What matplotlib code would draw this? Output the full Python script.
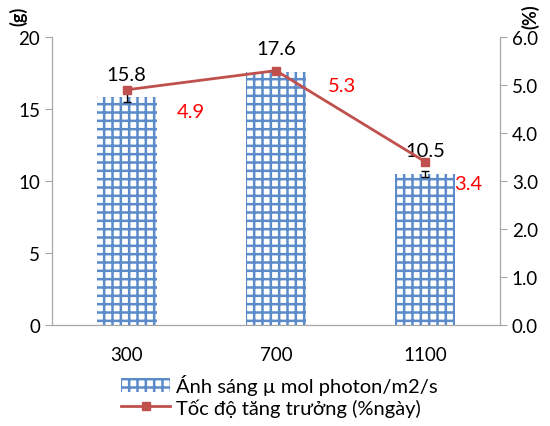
import matplotlib
matplotlib.use("Agg")
import matplotlib.pyplot as plt
import numpy as np

categories = ["300", "700", "1100"]
light_values = [15.8, 17.6, 10.5]
light_errors = [0.3, 0.2, 0.2]
growth_values = [4.9, 5.3, 3.4]
bar_label = "Ánh sáng µ mol photon/m2/s"
line_label = "Tốc độ tăng trưởng (%ngày)"

plt.rcParams['font.family'] = ['Lato', 'DejaVu Sans']
plt.rcParams['hatch.linewidth'] = 1.8

blue = '#5B8BC9'
red = '#C0504D'
gray = '#A6A6A6'

fig = plt.figure(figsize=(5.5, 4.27), dpi=100)
ax = fig.add_axes([0.0945, 0.2365, 0.8145, 0.6745])
ax2 = ax.twinx()

x = np.arange(len(categories))
bars = ax.bar(x, light_values, width=0.4, color='white', edgecolor=blue,
              hatch='++', linewidth=0, label=bar_label, zorder=2)
ax.errorbar(x, light_values, yerr=light_errors, fmt='none', ecolor='black',
            elinewidth=1, capsize=3, capthick=1, zorder=3)
for xi, v in zip(x, light_values):
    ax.text(xi, v + 1.0, f"{v:.1f}", ha='center', va='bottom', fontsize=14.5, color='black')

ax.set_xlim(-0.5, 2.5)
ax.set_ylim(0, 20)
ax.set_yticks([0, 5, 10, 15, 20])
ax.set_xticks(x)
ax.set_xticklabels(categories)

line, = ax2.plot(x, growth_values, color=red, linewidth=2, marker='s', markersize=6,
                 label=line_label, zorder=4)
red_dx = [0.43, 0.44, 0.29]
red_dy = [-0.45, -0.3, -0.45]
for xi, v, dx, dy in zip(x, growth_values, red_dx, red_dy):
    ax2.text(xi + dx, v + dy, f"{v:.1f}", ha='center', va='center', fontsize=14.5, color='#FF0000')
ax2.set_ylim(0, 6)
ax2.set_yticks([0, 1, 2, 3, 4, 5, 6])
ax2.set_yticklabels([f"{t:.1f}" for t in [0, 1, 2, 3, 4, 5, 6]])

for a in (ax, ax2):
    a.spines['top'].set_visible(False)
    for s in ('left', 'right', 'bottom'):
        a.spines[s].set_color(gray)
    a.tick_params(axis='both', colors=gray, labelcolor='black', labelsize=13.5, length=5)
ax.tick_params(axis='x', length=0, pad=15)

fig.text(0.033, 0.962, "(g)", rotation=90, ha='center', va='center', fontsize=13, fontweight='bold')
fig.text(0.965, 0.962, "(%)", rotation=90, ha='center', va='center', fontsize=13, fontweight='bold')

fig.legend([bars, line], [bar_label, line_label], loc='center', bbox_to_anchor=(0.508, 0.072),
           ncol=1, frameon=False, fontsize=14.5, handlelength=2.4, labelspacing=0.15,
           borderpad=0, handletextpad=0.3)

fig.savefig("out.png", dpi=100)
